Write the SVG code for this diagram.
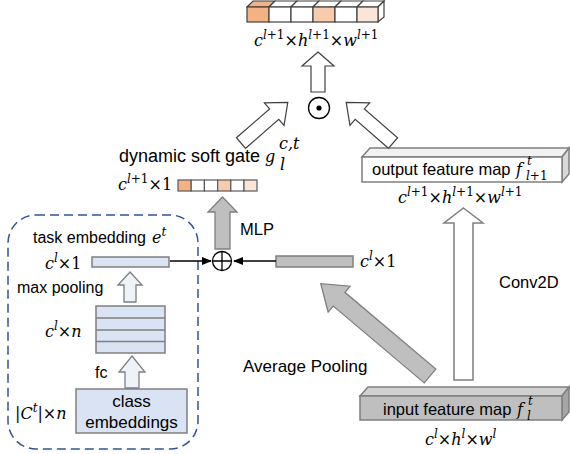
<svg xmlns="http://www.w3.org/2000/svg" width="570" height="454" viewBox="0 0 570 454">
<defs>
<style>
.s{font-family:"Liberation Sans",Arial,sans-serif;fill:#000}
.m{font-family:"DejaVu Serif","Liberation Serif",serif;font-style:italic;font-size:16px;fill:#000}
.u{font-style:normal}
.sp{font-size:12px}
.blk{stroke:#404040;stroke-width:1.2}
.gry{stroke:#7F7F7F;stroke-width:1.5}
.bl{fill:#DAE3F3}
.o1{fill:#F4B183}.o2{fill:#F8CBAD}.o3{fill:#FBE5D6}.w{fill:#FFFFFF}
</style>
<marker id="ah" markerWidth="10" markerHeight="8" refX="9" refY="4" orient="auto" markerUnits="userSpaceOnUse">
<path d="M0,0 L10,4 L0,8 z" fill="#000"/>
</marker>
</defs>
<rect width="570" height="454" fill="#fff"/>

<!-- output tensor top -->
<g id="out-tensor">
<g class="blk">
<polygon class="o1" points="247,7 253,1 275,1 269,7"/>
<polygon class="w" points="269,7 275,1 297,1 291,7"/>
<polygon class="w" points="291,7 297,1 319,1 313,7"/>
<polygon class="w" points="313,7 319,1 341,1 335,7"/>
<polygon class="w" points="335,7 341,1 363,1 357,7"/>
<polygon class="w" points="357,7 363,1 384,1 378,7"/>
<polygon class="w" points="378,7 384,1 384,17 378,22"/>
<rect class="o1" x="247" y="7" width="22" height="15"/>
<rect class="w" x="269" y="7" width="22" height="15"/>
<rect class="w" x="291" y="7" width="22" height="15"/>
<rect class="o2" x="313" y="7" width="22" height="15"/>
<rect class="w" x="335" y="7" width="22" height="15"/>
<rect class="o3" x="357" y="7" width="21" height="15"/>
</g>
<text class="m" x="254" y="46">c<tspan class="sp" dy="-7">l<tspan class="u">+1</tspan></tspan><tspan class="u" dy="7">×</tspan>h<tspan class="sp" dy="-7">l<tspan class="u">+1</tspan></tspan><tspan class="u" dy="7">×</tspan>w<tspan class="sp" dy="-7">l<tspan class="u">+1</tspan></tspan></text>
</g>

<!-- odot -->
<g id="odot">
<circle cx="319" cy="108" r="10.5" fill="#fff" stroke="#000" stroke-width="1.3"/>
<circle cx="319" cy="108" r="2.6" fill="#000"/>
</g>

<!-- gate -->
<g id="gate">
<text class="s" x="119" y="162" font-size="18">dynamic soft gate</text>
<text class="m" x="265" y="162" font-size="19">g</text>
<text class="m" x="279" y="149" font-size="12">c,t</text>
<text class="m" x="280" y="170" font-size="12">l</text>
<text class="m" x="118" y="190">c<tspan class="sp" dy="-7">l<tspan class="u">+1</tspan></tspan><tspan class="u" dy="7">×1</tspan></text>
<g stroke="#595959" stroke-width="1.2">
<rect class="o1" x="178" y="180" width="13.2" height="11"/>
<rect class="w" x="191.2" y="180" width="13.2" height="11"/>
<rect class="w" x="204.4" y="180" width="13.2" height="11"/>
<rect class="o2" x="217.6" y="180" width="13.2" height="11"/>
<rect class="w" x="230.8" y="180" width="13.2" height="11"/>
<rect class="o3" x="244" y="180" width="13" height="11"/>
</g>
</g>

<!-- output feature map -->
<g id="output-fmap">
<g class="gry">
<polygon points="362,157 370,148 569,148 562,157" fill="#F2F2F2"/>
<polygon points="562,157 569,148 569,174 562,182" fill="#D9D9D9"/>
<rect x="362" y="157" width="200" height="25" fill="#fff"/>
</g>
<text class="s" x="372" y="175" font-size="16.5">output feature map</text>
<text class="m" x="516" y="175" font-size="17">f</text>
<text class="m sp" x="527" y="165">t</text>
<text class="m sp" x="526" y="180">l<tspan class="u">+1</tspan></text>
<text class="m" x="398" y="203">c<tspan class="sp" dy="-7">l<tspan class="u">+1</tspan></tspan><tspan class="u" dy="7">×</tspan>h<tspan class="sp" dy="-7">l<tspan class="u">+1</tspan></tspan><tspan class="u" dy="7">×</tspan>w<tspan class="sp" dy="-7">l<tspan class="u">+1</tspan></tspan></text>
</g>

<!-- oplus -->
<g id="oplus">
<circle cx="222" cy="261" r="9.5" fill="#fff" stroke="#000" stroke-width="1.3"/>
<path d="M222,251.5 V270.5 M212.5,261 H231.5" stroke="#000" stroke-width="1.3"/>
</g>

<!-- pooled vector -->
<g id="pooled">
<rect x="276" y="256" width="77" height="11" fill="#BFBFBF" stroke="#7F7F7F" stroke-width="1.5"/>
<text class="m" x="360" y="267">c<tspan class="sp" dy="-7">l</tspan><tspan class="u" dy="7">×1</tspan></text>
</g>

<!-- task embedding module -->
<g id="task-module">
<rect x="8" y="215" width="190" height="234" rx="28" fill="none" stroke="#2F5597" stroke-width="1.5" stroke-dasharray="9 5"/>
<text class="s" x="33" y="243" font-size="16">task embedding</text>
<text class="m" x="152" y="243">e<tspan class="sp" dy="-7">t</tspan></text>
<text class="m" x="45" y="269">c<tspan class="sp" dy="-7">l</tspan><tspan class="u" dy="7">×1</tspan></text>
<rect class="bl gry" x="92" y="257" width="77" height="10"/>
<text class="s" x="17" y="293" font-size="16">max pooling</text>
<g class="gry">
<rect class="bl" x="96" y="306" width="69" height="47"/>
<path d="M96,318 H165 M96,330 H165 M96,341.5 H165" fill="none"/>
</g>
<text class="m" x="45" y="337">c<tspan class="sp" dy="-7">l</tspan><tspan class="u" dy="7">×</tspan>n</text>
<text class="s" x="95" y="378" font-size="16">fc</text>
<rect class="bl gry" x="76" y="389" width="111" height="44"/>
<text class="s" x="131.5" y="407" font-size="17" text-anchor="middle">class</text>
<text class="s" x="131.5" y="428" font-size="17" text-anchor="middle">embeddings</text>
<text class="m" x="15" y="419"><tspan class="u">|</tspan>C<tspan class="sp" dy="-7">t</tspan><tspan class="u" dy="7">|×</tspan>n</text>
</g>

<!-- input feature map -->
<g id="input-fmap">
<g class="gry">
<polygon points="360,396 368,387 569,387 562,396" fill="#D0D0D0"/>
<polygon points="562,396 569,387 569,412 562,420" fill="#A6A6A6"/>
<rect x="360" y="396" width="202" height="24" fill="#BFBFBF"/>
</g>
<text class="s" x="383" y="415" font-size="16.5">input feature  map</text>
<text class="m" x="517" y="415" font-size="17">f</text>
<text class="m sp" x="528" y="405">t</text>
<text class="m sp" x="527" y="420">l</text>
<text class="m" x="425" y="445">c<tspan class="sp" dy="-7">l</tspan><tspan class="u" dy="7">×</tspan>h<tspan class="sp" dy="-7">l</tspan><tspan class="u" dy="7">×</tspan>w<tspan class="sp" dy="-7">l</tspan></text>
</g>

<!-- labels for operations -->
<g id="op-labels">
<text class="s" x="240" y="235" font-size="16.5">MLP</text>
<text class="s" x="243" y="372" font-size="17">Average Pooling</text>
<text class="s" x="499" y="288" font-size="16.5">Conv2D</text>
</g>

<!-- connectors -->
<g id="connectors">
<polygon class="blk" fill="#fff" points="318,52 334,66 325,66 325,92 311,92 311,66 302,66"/>
<polygon class="blk" fill="#fff" points="0,-7 44,-7 44,-15 62,0 44,15 44,7 0,7" transform="translate(241,143) rotate(-41)"/>
<polygon class="blk" fill="#fff" points="0,-7 44,-7 44,-15 62,0 44,15 44,7 0,7" transform="translate(393,143) rotate(-139)"/>
<polygon fill="#BFBFBF" stroke="#7F7F7F" stroke-width="1.3" points="222.5,197 237,212 230,212 230,249 215,249 215,212 208,212"/>
<polygon fill="#BFBFBF" stroke="#7F7F7F" stroke-width="1.3" points="0,-9 119,-9 119,-17 143,0 119,17 119,9 0,9" transform="translate(430,376) rotate(220.2)"/>
<polygon class="gry" fill="#fff" stroke-width="1.3" points="463.5,208 483,223 473,223 473,380 454,380 454,223 444,223"/>
<polygon fill="#EEF2F9" stroke="#7F7F7F" stroke-width="1.3" points="130,272 142,285 136,285 136,302 124,302 124,285 118,285"/>
<polygon fill="#EEF2F9" stroke="#7F7F7F" stroke-width="1.3" points="132,356 145,372 139,372 139,388 125,388 125,372 119,372"/>
<line x1="170" y1="261" x2="211" y2="261" stroke="#000" stroke-width="1.5" marker-end="url(#ah)"/>
<line x1="276" y1="261" x2="234" y2="261" stroke="#000" stroke-width="1.5" marker-end="url(#ah)"/>
</g>
</svg>
